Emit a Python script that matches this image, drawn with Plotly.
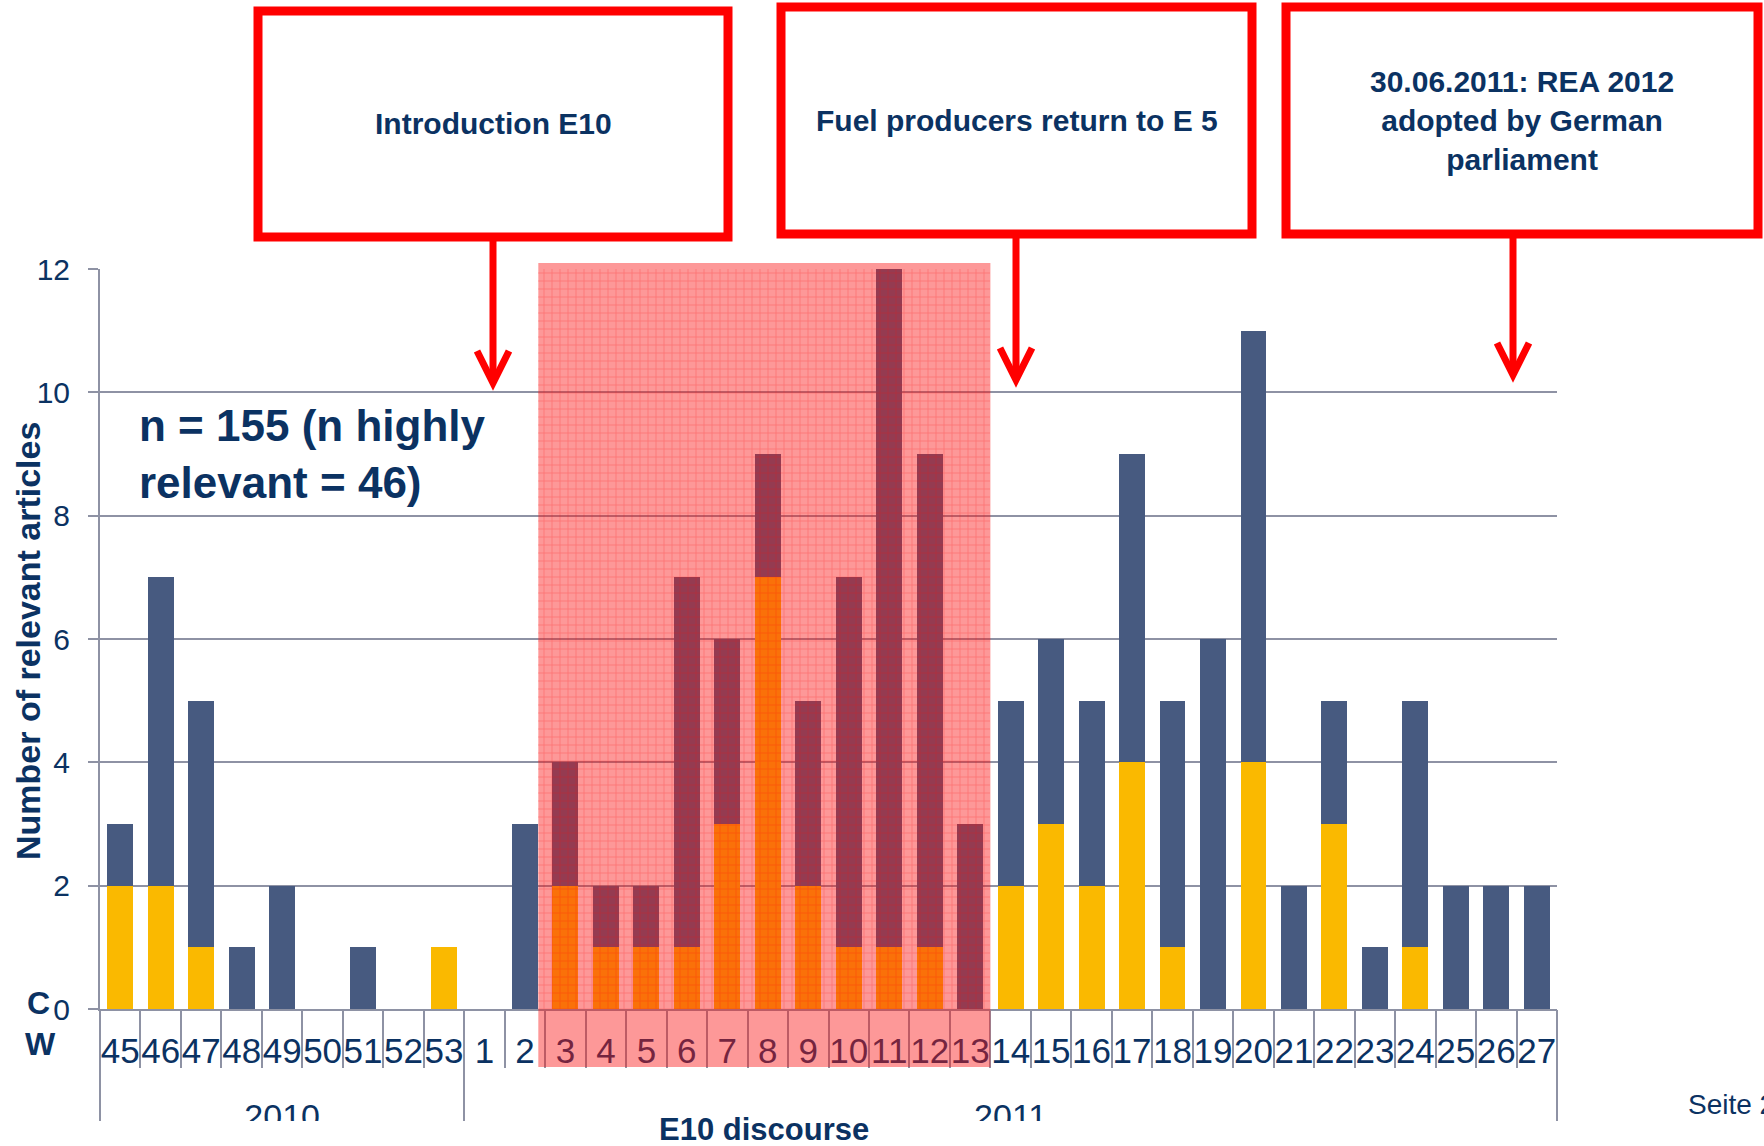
import plotly.graph_objects as go

# ---------------- data ----------------
weeks = ["45", "46", "47", "48", "49", "50", "51", "52", "53",
         "1", "2", "3", "4", "5", "6", "7", "8", "9", "10", "11", "12", "13",
         "14", "15", "16", "17", "18", "19", "20", "21", "22", "23", "24", "25", "26", "27"]
years = ["2010", "2011"]
weeks_per_year = [9, 27]
highly_relevant = [2, 2, 1, 0, 0, 0, 0, 0, 1,
                   0, 0, 2, 1, 1, 1, 3, 7, 2, 1, 1, 1, 0,
                   2, 3, 2, 4, 1, 0, 4, 0, 3, 0, 1, 0, 0, 0]
other_relevant = [1, 5, 4, 1, 2, 0, 1, 0, 0,
                  0, 3, 2, 1, 1, 6, 3, 2, 3, 6, 11, 8, 3,
                  3, 3, 3, 5, 4, 6, 7, 2, 2, 1, 4, 2, 2, 2]
y_ticks = [0, 2, 4, 6, 8, 10, 12]

# ---------------- styling ----------------
W, H = 1764, 1146
ML, MR, MT, MB = 100, 207, 269, 137
PW, PH = W - ML - MR, H - MT - MB
NAVY = "#0B3262"
GRAY = "#8E92A4"
YELLOW = "#FAB900"
BLUE = "#475A80"
RED = "#FF0000"
FONT = "Liberation Sans, Arial, sans-serif"


def px(x):
    return (x - ML) / PW


def py(y):
    return (H - MB - y) / PH


n = len(weeks)
boundaries = [i - 0.5 for i in range(n + 1)]
year_bounds = [-0.5]
year_centers = []
start = 0
for c in weeks_per_year:
    year_centers.append(start + c / 2 - 0.5)
    start += c
    year_bounds.append(start - 0.5)

# highlighted "E10 discourse" period (decoration)
hl_x0 = weeks.index("2") + 0.33
hl_x1 = weeks.index("14") - 0.5
hl_y0 = (1009 - 1067) / PH * 12
hl_y1 = (1009 - 263) / PH * 12

fig = go.Figure()
fig.add_trace(go.Bar(x=weeks, y=highly_relevant, marker_color=YELLOW,
                     marker_line_width=0, name="highly relevant"))
fig.add_trace(go.Bar(x=weeks, y=other_relevant, marker_color=BLUE,
                     marker_line_width=0, name="relevant"))
# grid texture of the highlight
fig.add_trace(go.Bar(x=[(hl_x0 + hl_x1) / 2], width=[hl_x1 - hl_x0], base=[hl_y0],
                     y=[hl_y1 - hl_y0], xaxis="x2", yaxis="y", cliponaxis=False,
                     marker=dict(color="rgba(0,0,0,0)", line=dict(width=0),
                                 pattern=dict(shape="+", fgcolor="rgba(255,0,0,0.55)",
                                              size=8, solidity=0.18)),
                     showlegend=False, hoverinfo="skip"))
for ax in ["x3", "x4"]:
    fig.add_trace(go.Scatter(x=[0], y=[0], xaxis=ax, yaxis="y", mode="markers",
                             marker=dict(opacity=0), showlegend=False, hoverinfo="skip"))

xr = [-0.5, n - 0.5]
fig.update_layout(
    width=W, height=H,
    margin=dict(l=ML, r=MR, t=MT, b=MB, pad=0, autoexpand=False),
    paper_bgcolor="white", plot_bgcolor="white",
    showlegend=False,
    barmode="stack", bargap=0.36,
    font=dict(family=FONT, color=NAVY),
    xaxis=dict(type="category", categoryorder="array", categoryarray=weeks, range=xr,
               tickmode="linear", dtick=1, tickangle=0, automargin=False,
               showline=True, linecolor=GRAY, linewidth=2, showgrid=False,
               ticks="outside", ticklen=10, tickcolor="rgba(0,0,0,0)",
               tickfont=dict(size=35, color=NAVY, family=FONT)),
    xaxis2=dict(overlaying="x", anchor="y", type="linear", range=xr, automargin=False,
                tickmode="array", tickvals=boundaries, ticks="outside", ticklen=58,
                tickcolor=GRAY, tickwidth=2, showticklabels=False,
                showgrid=False, zeroline=False, showline=False),
    xaxis3=dict(overlaying="x", anchor="y", type="linear", range=xr, automargin=False,
                tickmode="array", tickvals=year_centers, ticktext=years,
                ticks="outside", ticklen=77, tickcolor="rgba(0,0,0,0)", tickangle=0,
                tickfont=dict(size=34, color=NAVY, family=FONT),
                showgrid=False, zeroline=False, showline=False),
    xaxis4=dict(overlaying="x", anchor="y", type="linear", range=xr, automargin=False,
                tickmode="array", tickvals=year_bounds, ticks="outside", ticklen=111,
                tickcolor=GRAY, tickwidth=2, showticklabels=False,
                showgrid=False, zeroline=False, showline=False),
    yaxis=dict(range=[0, 12], tickmode="array", tickvals=y_ticks, automargin=False,
               showgrid=True, gridcolor=GRAY, gridwidth=1.5, zeroline=False,
               showline=True, linecolor=GRAY, linewidth=2,
               ticks="outside", ticklen=10, tickcolor=GRAY, tickwidth=2,
               ticklabelstandoff=12,
               tickfont=dict(size=30, color=NAVY, family=FONT)),
)

shapes = []
shapes.append(dict(type="rect", xref="x2", yref="paper",
                   x0=hl_x0, x1=hl_x1, y0=py(1067), y1=py(263),
                   fillcolor="rgba(250,20,20,0.44)", line=dict(width=0), layer="above"))
# cut at bottom
shapes.append(dict(type="rect", xref="paper", yref="paper",
                   x0=px(0), x1=px(W), y0=py(H + 5), y1=py(1121),
                   fillcolor="white", line=dict(width=0), layer="above"))

boxes = [
    (258, 728, 11, 237, 493, 383, ["Introduction E10"]),
    (781, 1252, 7, 234, 1016, 380, ["Fuel producers return to E 5"]),
    (1286, 1758, 7, 234, 1513, 375, ["30.06.2011: REA 2012", "adopted by German", "parliament"]),
]
annotations = []
for (x0, x1, y0, y1, ax_, tip, lines) in boxes:
    shapes.append(dict(type="rect", xref="paper", yref="paper",
                       x0=px(x0), x1=px(x1), y0=py(y1), y1=py(y0),
                       fillcolor="white", line=dict(color=RED, width=9), layer="above"))
    shapes.append(dict(type="line", xref="paper", yref="paper",
                       x0=px(ax_), x1=px(ax_), y0=py(y1 + 4), y1=py(tip - 3),
                       line=dict(color=RED, width=7), layer="above"))
    shapes.append(dict(type="path", xref="paper", yref="paper",
                       path=f"M {px(ax_-16)},{py(tip-32)} L {px(ax_)},{py(tip)} L {px(ax_+16)},{py(tip-32)}",
                       line=dict(color=RED, width=7), layer="above"))
    annotations.append(dict(xref="paper", yref="paper", x=px((x0 + x1) / 2), y=py((y0 + y1) / 2),
                            text="<br>".join(lines), showarrow=False, align="center",
                            xanchor="center", yanchor="middle",
                            font=dict(size=30, color=NAVY, family=FONT, weight="bold")))

annotations += [
    dict(xref="paper", yref="paper", x=px(137), y=py(454), xanchor="left", yanchor="middle",
         text="n = 155 (n highly<br>relevant = 46)", showarrow=False, align="left",
         font=dict(size=44, color=NAVY, family=FONT, weight="bold")),
    dict(xref="paper", yref="paper", x=px(28), y=py(641), textangle=-90,
         text="Number of relevant articles", showarrow=False,
         xanchor="center", yanchor="middle",
         font=dict(size=34, color=NAVY, family=FONT, weight="bold")),
    dict(xref="paper", yref="paper", x=px(38), y=py(1003), text="C", showarrow=False,
         xanchor="center", yanchor="middle",
         font=dict(size=32, color=NAVY, family=FONT, weight="bold")),
    dict(xref="paper", yref="paper", x=px(40), y=py(1044), text="W", showarrow=False,
         xanchor="center", yanchor="middle",
         font=dict(size=32, color=NAVY, family=FONT, weight="bold")),
    dict(xref="paper", yref="paper", x=px(764), y=py(1129), text="E10 discourse", showarrow=False,
         xanchor="center", yanchor="middle",
         font=dict(size=31, color=NAVY, family=FONT, weight="bold")),
    dict(xref="paper", yref="paper", x=px(1686), y=py(1104), text="Seite 2", showarrow=False,
         xanchor="left", yanchor="middle",
         font=dict(size=28, color=NAVY, family=FONT)),
]

fig.update_layout(shapes=shapes, annotations=annotations)
fig.write_html("out.html", config={"displayModeBar": False},
               post_script="document.body.style.margin='0px';")
